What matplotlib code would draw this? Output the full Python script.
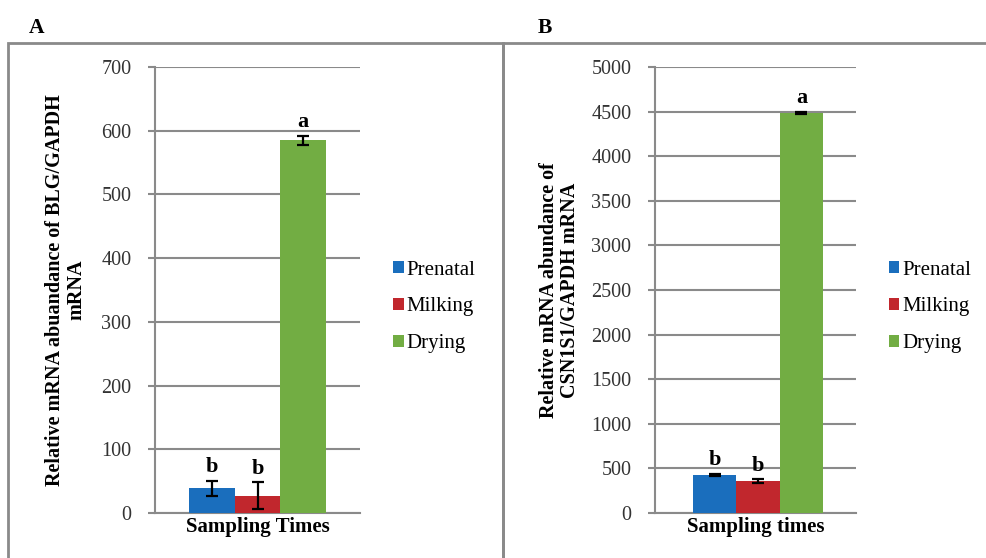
import matplotlib.pyplot as plt
from matplotlib.patches import Rectangle

FONT = 'Liberation Serif'
plt.rcParams['font.family'] = 'serif'
plt.rcParams['font.serif'] = [FONT]

groups = ['Prenatal', 'Milking', 'Drying']
colors = ['#1a6ebd', '#c1272d', '#72ad43']

# panel A: BLG
blg_vals = [39, 27, 585]
blg_err = [12, 21, 7]
blg_letters = ['b', 'b', 'a']

# panel B: CSN1S1
csn_vals = [426, 359, 4485]
csn_err = [12, 20, 10]
csn_letters = ['b', 'b', 'a']

gray = '#8a8a8a'

fig = plt.figure(figsize=(9.87, 5.58), dpi=100)

# panel borders
fig.add_artist(Rectangle((8 / 987, -0.05), 495 / 987, 1 - 43 / 558 + 0.05,
                         transform=fig.transFigure, fill=False, ec=gray, lw=2))
fig.add_artist(Rectangle((503 / 987, -0.05), 0.6, 1 - 43 / 558 + 0.05,
                         transform=fig.transFigure, fill=False, ec=gray, lw=2))
fig.text(29 / 987, 1 - 28 / 558, 'A', fontsize=15.5, fontweight='bold',
         va='center', family=FONT)
fig.text(538 / 987, 1 - 28 / 558, 'B', fontsize=15.5, fontweight='bold',
         va='center', family=FONT)


def panel(rect, vals, err, letters, ymax, step, xlim, ylabel, xlabel, ylpad):
    ax = fig.add_axes(rect)
    x = range(len(groups))
    bars = ax.bar(x, vals, width=1.0, color=colors, yerr=err, capsize=4,
                  error_kw=dict(ecolor='black', elinewidth=1.6, capthick=1.6),
                  label=groups, zorder=3)
    for i, (v, e, t) in enumerate(zip(vals, err, letters)):
        ax.text(i, v + e + ymax * 0.008, t, ha='center', va='bottom',
                fontsize=16, fontweight='bold', family=FONT)
    ax.set_ylim(0, ymax)
    ticks = list(range(0, ymax + 1, step))
    ax.set_yticks(ticks, [str(t) for t in ticks], family=FONT)
    ax.set_xlim(*xlim)
    ax.set_xticks([])
    ax.yaxis.grid(True, color=gray, lw=1.5, zorder=0)
    for s in ['top', 'right']:
        ax.spines[s].set_visible(False)
    for s in ['left', 'bottom']:
        ax.spines[s].set_color(gray)
        ax.spines[s].set_linewidth(1.5)
    ax.tick_params(axis='y', direction='out', length=5, color=gray, width=1.5,
                   labelsize=14.5, labelcolor='#333333', pad=12)
    ax.set_xlabel(xlabel, fontsize=15, fontweight='bold', labelpad=3,
                  family=FONT)
    ax.set_ylabel(ylabel, fontsize=14.5, fontweight='bold', labelpad=ylpad,
                  linespacing=1.05, family=FONT)
    ax.legend(bars, groups, loc='center left', bbox_to_anchor=(1.07, 0.462),
              frameon=False, prop=dict(family=FONT, size=15),
              handlelength=0.5, handleheight=0.5,
              handletextpad=0.15, labelspacing=0.85)
    return ax


panel([155 / 987, 1 - 513 / 558, 205 / 987, 446 / 558], blg_vals, blg_err,
      blg_letters, 700, 100, (-1.24, 3.24),
      'Relative mRNA abuandance of BLG/GAPDH\nmRNA', 'Sampling Times', 11)
panel([655 / 987, 1 - 513 / 558, 201 / 987, 446 / 558], csn_vals, csn_err,
      csn_letters, 5000, 500, (-1.38, 3.26),
      'Relative mRNA abundance of\nCSN1S1/GAPDH mRNA', 'Sampling times', 8)

fig.savefig('out.png', dpi=100)
